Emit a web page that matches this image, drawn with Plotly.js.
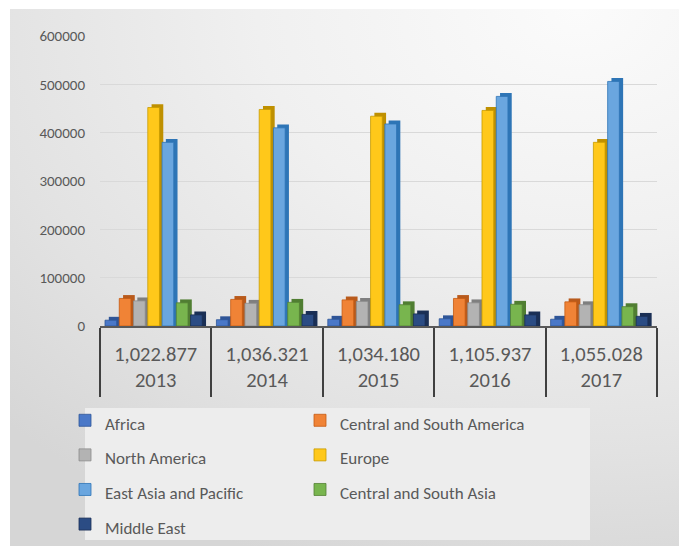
<!DOCTYPE html>
<html>
<head>
<meta charset="utf-8">
<script src="https://cdn.plot.ly/plotly-3.0.1.min.js"></script>
<style>
  html, body { margin: 0; padding: 0; background: #ffffff; }
  #frame {
    position: absolute; left: 10px; top: 9px; width: 669px; height: 537px;
    background: radial-gradient(ellipse 120% 110% at 85% 0%, #fbfbfb 0%, #f0f0f0 40%, #e2e2e2 75%, #d6d6d6 100%);
  }
  #chart { position: absolute; left: 0; top: 0; width: 679px; height: 546px; }
</style>
</head>
<body>
<div id="frame"></div>
<div id="chart"></div>
<script>
// Categories: year and yearly total shown beneath it
const years  = ['2013', '2014', '2015', '2016', '2017'];
const totals = ['1,022.877', '1,036.321', '1,034.180', '1,105.937', '1,055.028'];

// Regional values per year
const africa       = [12000, 13000, 14000, 15000, 14000];
const centralSouthAmerica = [57000, 55000, 54000, 57000, 50000];
const northAmerica = [52000, 47000, 51000, 48000, 44000];
const europe       = [452000, 448000, 434000, 446000, 380000];
const eastAsiaPacific = [380000, 410000, 418000, 475000, 506000];
const centralSouthAsia = [48000, 49000, 44000, 45000, 40000];
const middleEast   = [23000, 24000, 25000, 23000, 20000];

const seriesNames = ['Africa', 'Central and South America', 'North America', 'Europe',
                     'East Asia and Pacific', 'Central and South Asia', 'Middle East'];
const seriesValues = [africa, centralSouthAmerica, northAmerica, europe,
                      eastAsiaPacific, centralSouthAsia, middleEast];

const frontColors = ['#4a78c8', '#f08336', '#b3b3b3', '#ffc81a', '#6aa6df', '#78b54e', '#2b4c84'];
const sideColors  = ['#2f5597', '#b85a1c', '#7f7f7f', '#bf9000', '#2e75b6', '#507e32', '#1a2f55'];
const edgeColors  = ['#2f5597', '#c55a11', '#8c8c8c', '#c79a00', '#2e75b6', '#548235', '#1a2f55'];

const BAR_W = 0.105;      // front face width (category units)
const STEP = 0.128;       // spacing between bars in a group
const START = -0.455;     // offset of the first bar
const DEPTH_X = 0.034;    // side-face shift
const DEPTH_Y = 7000;     // top-face lift in data units

const traces = [];
seriesValues.forEach((vals, i) => {
  const off = START + i * STEP;
  // shaded depth face behind each column
  traces.push({
    type: 'bar', x: years, y: vals.map(v => v + DEPTH_Y),
    offset: off + DEPTH_X, width: BAR_W,
    marker: { color: sideColors[i], line: { width: 0 } },
    showlegend: false, hoverinfo: 'skip'
  });
  // front face
  traces.push({
    type: 'bar', x: years, y: vals,
    name: '<span style="font-size:17px">' + seriesNames[i] + '</span>',
    offset: off, width: BAR_W,
    marker: { color: frontColors[i], line: { color: edgeColors[i], width: 0.8 } }
  });
});

// two-row category labels: total above, year below
const tickText = years.map((y, i) => totals[i] + '<br>' + y);

// plot area spans x 100..657 and y 36..326 in pixels
const px = v => (v - 100) / 557;
const py = v => (326 - v) / 290;

const font = 'Carlito, Lato, "Open Sans", sans-serif';
const layout = {
  width: 679, height: 546,
  margin: { l: 100, r: 22, t: 36, b: 220, autoexpand: false },
  paper_bgcolor: 'rgba(0,0,0,0)',
  plot_bgcolor: 'rgba(0,0,0,0)',
  barmode: 'overlay',
  font: { family: font, color: '#595959', size: 14 },
  xaxis: {
    type: 'category', automargin: false,
    range: [-0.5, 4.5],
    tickmode: 'array', tickvals: years, ticktext: tickText,
    showline: true, linecolor: '#595959', linewidth: 2,
    ticks: 'outside', tickson: 'boundaries', ticklen: 69, tickwidth: 2, tickcolor: '#404040',
    tickfont: { size: 20.5, color: '#595959' },
    ticklabelstandoff: 8,
    showgrid: false
  },
  yaxis: {
    range: [0, 600000], dtick: 100000, tickformat: 'd', automargin: false,
    showgrid: true, gridcolor: '#d9d9d9', gridwidth: 1,
    zeroline: false, showline: false,
    ticks: '', ticklen: 0, ticklabelstandoff: 14,
    tickfont: { size: 15, color: '#595959' }
  },
  shapes: [{
    type: 'rect', xref: 'paper', yref: 'paper', layer: 'below',
    x0: px(85), x1: px(590), y0: py(408), y1: py(540),
    fillcolor: '#ededed', line: { width: 0 }
  }],
  legend: {
    orientation: 'h',
    x: px(65), xanchor: 'left',
    y: py(398), yanchor: 'top',
    bgcolor: 'rgba(0,0,0,0)',
    entrywidth: 190, entrywidthmode: 'pixels',
    font: { size: 24.3, color: '#595959' },
    traceorder: 'normal'
  },
  showlegend: true
};

Plotly.newPlot('chart', traces, layout, { displayModeBar: false, staticPlot: true });
</script>
</body>
</html>
